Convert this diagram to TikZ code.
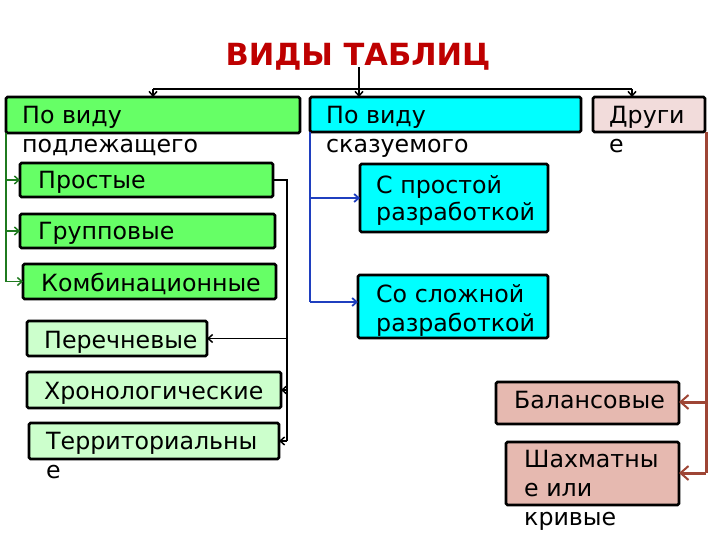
\documentclass[tikz,border=0pt]{standalone}
\usepackage{fontspec}
\setmainfont{DejaVu Sans}
\newfontfamily\titlefont{DejaVu Sans}
\usetikzlibrary{arrows.meta}
\definecolor{grbox}{HTML}{66FF66}
\definecolor{ltgr}{HTML}{CCFFCC}
\definecolor{cybox}{HTML}{00FFFF}
\definecolor{pkbox}{HTML}{F2DCDB}
\definecolor{sabox}{HTML}{E6B9B0}
\definecolor{ttl}{HTML}{BE0000}
\definecolor{grl}{HTML}{1F7A1F}
\definecolor{bll}{HTML}{1F3FBF}
\definecolor{brl}{HTML}{9E4535}
\tikzset{
  box/.style={draw=black, line width=2.6pt, rounded corners=1.5pt, inner sep=0pt, outer sep=0pt, anchor=north west},
  txt/.style={anchor=base west, inner sep=0pt, align=left, font=\fontsize{23.7}{29}\selectfont},
  tip/.style={-{Straight Barb[length=4.5pt,width=8pt]}},
  bigtip/.style={-{Straight Barb[length=8pt,width=14pt,line width=2pt]}},
}
\begin{document}
\begin{tikzpicture}[x=1pt,y=-1pt]
\useasboundingbox (0,0) rectangle (720,540);
% title
\node (title) [anchor=base, inner sep=0pt, text=ttl, font=\titlefont\bfseries\fontsize{30.5}{33}\selectfont] at (358,66) {ВИДЫ ТАБЛИЦ};
% top-level boxes
\node[box, fill=grbox, minimum width=294, minimum height=36] (b1) at (6,97) {};
\node[box, fill=cybox, minimum width=271, minimum height=35] (b2) at (310,97) {};
\node[box, fill=pkbox, minimum width=112, minimum height=35] (b3) at (593,97) {};
\node[txt] (t1) at (22,153) {По виду\\подлежащего};
\node[txt] (t2) at (326,153) {По виду\\сказуемого};
\node[txt] (t3) at (609,153) {Други\\е};
% green children
\node[box, fill=grbox, minimum width=253, minimum height=34] (g1) at (20,163) {};
\node[box, fill=grbox, minimum width=255, minimum height=34] (g2) at (20,214) {};
\node[box, fill=grbox, minimum width=253, minimum height=35] (g3) at (23,264) {};
\node[txt] (tg1) at (38,189) {Простые};
\node[txt] (tg2) at (38,240) {Групповые};
\node[txt] (tg3) at (41,291) {Комбинационные};
% light green children
\node[box, fill=ltgr, minimum width=180, minimum height=35] (l1) at (27,321) {};
\node[box, fill=ltgr, minimum width=254, minimum height=36] (l2) at (27,372) {};
\node[box, fill=ltgr, minimum width=250, minimum height=36] (l3) at (29,423) {};
\node[txt] (tl1) at (44,348) {Перечневые};
\node[txt] (tl2) at (44,399) {Хронологические};
\node[txt] (tl3) at (46,478) {Территориальны\\е};
% cyan children
\node[box, fill=cybox, minimum width=188, minimum height=68] (c1) at (360,164) {};
\node[box, fill=cybox, minimum width=190, minimum height=63] (c2) at (358,275) {};
\node[txt, font=\fontsize{23.7}{28}\selectfont] (tc1) at (376,221) {С простой\\разработкой};
\node[txt, font=\fontsize{23.7}{29}\selectfont] (tc2) at (376,331) {Со сложной\\разработкой};
% salmon children
\node[box, fill=sabox, minimum width=183, minimum height=42] (s1) at (496,382) {};
\node[box, fill=sabox, minimum width=173, minimum height=63] (s2) at (506,442) {};
\node[txt] (ts1) at (514,408) {Балансовые};
\node[txt] (ts2) at (524,525) {Шахматны\\е или\\кривые};
% coordinates for connectors
\coordinate (tb) at (359,67);
\coordinate (hy) at (359,89);
\coordinate (hl) at (153,89);
\coordinate (hr) at (632,89);
\coordinate (gv) at (6,133);
\coordinate (kv) at (287,180);
\coordinate (bv) at (310,132);
\coordinate (rv) at (706,132);
% top connectors
\draw[line width=1.8pt] (tb) -- (hy);
\draw[line width=1.8pt] (hl) -- (hr);
\draw[line width=1.5pt, tip] (hl) -- (hl |- b1.north);
\draw[line width=1.5pt, tip] (hy) -- (hy |- b2.north);
\draw[line width=1.5pt, tip] (hr) -- (hr |- b3.north);
% green connectors
\draw[grl, line width=1.8pt] (gv) -- (gv |- g3.west);
\draw[grl, line width=1.5pt, tip] (gv |- g1.west) -- (g1.west);
\draw[grl, line width=1.5pt, tip] (gv |- g2.west) -- (g2.west);
\draw[grl, line width=1.5pt, tip] (gv |- g3.west) -- (g3.west);
% black connectors
\draw[line width=1.6pt] (g1.east) -- (kv) -- (kv |- l3.east);
\draw[line width=1.5pt, tip] (kv |- l1.east) -- (l1.east);
\draw[line width=1.5pt, tip] (kv |- l2.east) -- (l2.east);
\draw[line width=1.5pt, tip] (kv |- l3.east) -- (l3.east);
% blue connectors
\draw[bll, line width=1.8pt] (bv) -- (bv |- 0,302);
\draw[bll, line width=1.8pt, tip] (bv |- c1.west) -- (c1.west);
\draw[bll, line width=1.8pt, tip] (bv |- 0,302) -- (c2.west |- 0,302);
% brown connectors
\draw[brl, line width=3pt] (rv) -- (rv |- 0,473);
\draw[brl, line width=3pt, bigtip] (rv |- 0,402) -- (s1.east |- 0,402);
\draw[brl, line width=3pt, bigtip] (rv |- 0,473) -- (s2.east |- 0,473);
\end{tikzpicture}
\end{document}
